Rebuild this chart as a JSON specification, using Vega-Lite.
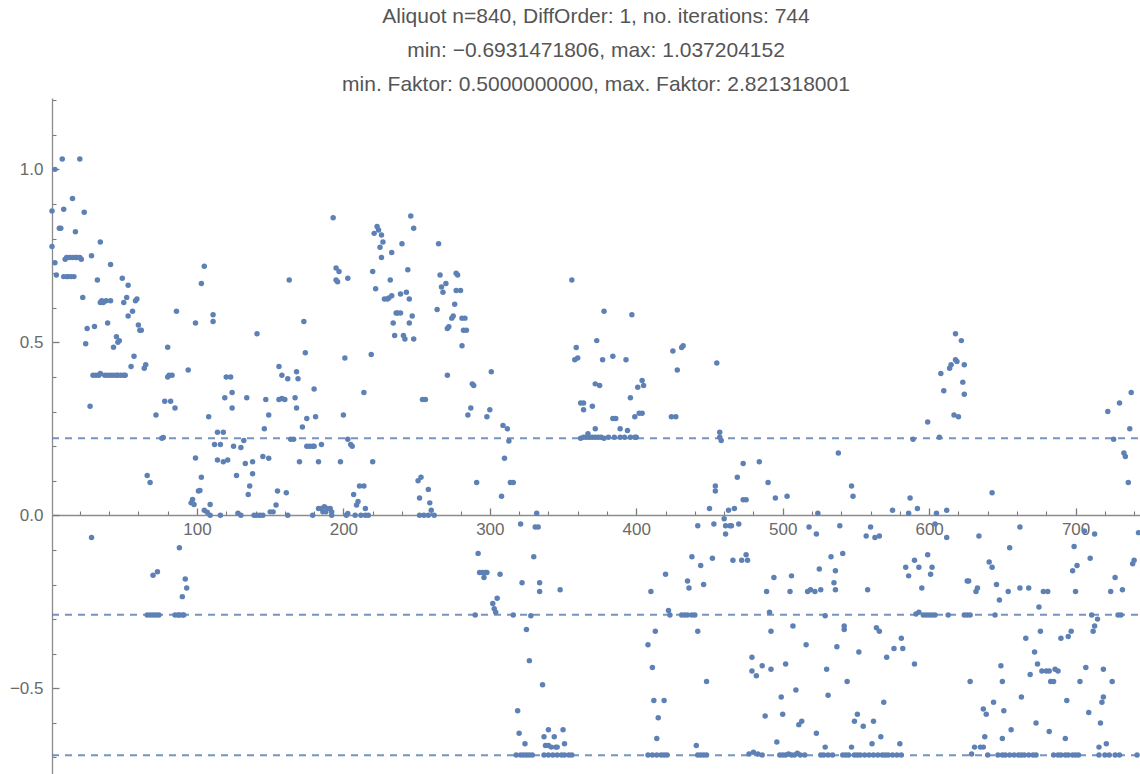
{
"$schema":"https://vega.github.io/schema/vega-lite/v6.json",
"width":1088,"height":676,
"autosize":{"type":"none"},
"padding":{"left":52,"top":98,"right":0,"bottom":0},
"background":"white",
"config":{"view":{"stroke":null}},
"title":{"text":["Aliquot n=840, DiffOrder: 1, no. iterations: 744","min: \u22120.6931471806, max: 1.037204152","min. Faktor: 0.5000000000, max. Faktor: 2.821318001"],"font":"Liberation Sans","fontSize":21,"fontWeight":"normal","color":"#555555","lineHeight":34,"anchor":"middle","offset":3},
"resolve":{"axis":{"x":"independent","y":"independent"}},
"layer":[
{"data":{"values":[{"c":0.2231435513},{"c":-0.2876820725},{"c":-0.6931471806}]},
"mark":{"type":"rule","color":"#5E81B5","strokeDash":[7,6],"strokeWidth":2,"opacity":0.85},
"encoding":{
"y":{"field":"c","type":"quantitative","scale":{"domain":[-0.7477,1.2063],"nice":false,"zero":false},"axis":{"orient":"right","offset":-1088,"values":[-0.7,-0.6,-0.4,-0.3,-0.2,-0.1,0.1,0.2,0.3,0.4,0.6,0.7,0.8,0.9,1.1,1.2],"labels":false,"domain":false,"grid":false,"title":null,"tickColor":"#7a7a7a","tickWidth":1.1,"tickSize":4}},
"x":{"datum":1,"type":"quantitative","scale":{"domain":[1,744],"nice":false,"zero":false},"axis":{"orient":"top","offset":-417,"values":[20,40,60,80,120,140,160,180,220,240,260,280,320,340,360,380,420,440,460,480,520,540,560,580,620,640,660,680,720,740],"labels":false,"domain":false,"grid":false,"title":null,"tickColor":"#7a7a7a","tickWidth":1.1,"tickSize":4}},
"x2":{"datum":744}
}},
{"data":{"values":[{"c":0.2231435513},{"c":-0.2876820725},{"c":-0.6931471806}]},
"mark":{"type":"rule","opacity":0},
"encoding":{
"y":{"field":"c","type":"quantitative","scale":{"domain":[-0.7477,1.2063],"nice":false,"zero":false},"axis":{"orient":"right","offset":-1088,"values":[-0.5,0,0.5,1],"labels":false,"domain":false,"grid":false,"title":null,"tickColor":"#7a7a7a","tickWidth":1.3,"tickSize":7}},
"x":{"datum":1,"type":"quantitative","scale":{"domain":[1,744],"nice":false,"zero":false},"axis":{"orient":"top","offset":-417,"values":[100,200,300,400,500,600,700],"labels":false,"domain":false,"grid":false,"title":null,"tickColor":"#7a7a7a","tickWidth":1.3,"tickSize":7}},
"x2":{"datum":744}
}},
{"data":{"values":[
{"i":1,"v":0.88},{"i":1,"v":0.777},{"i":3,"v":1.0},{"i":3,"v":0.73},{"i":4,"v":0.695},{"i":6,"v":0.83},{"i":7,"v":0.83},{"i":8,"v":1.03},{"i":9,"v":0.885},{"i":9,"v":0.69},{"i":11,"v":0.69},{"i":12,"v":0.69},{"i":14,"v":0.69},{"i":16,"v":0.69},{"i":10,"v":0.74},{"i":11,"v":0.745},{"i":13,"v":0.745},{"i":15,"v":0.745},{"i":17,"v":0.745},{"i":18,"v":0.745},{"i":20,"v":0.745},{"i":21,"v":0.74},{"i":15,"v":0.916},{"i":17,"v":0.82},{"i":20,"v":1.03},{"i":22,"v":0.63},{"i":23,"v":0.876},{"i":24,"v":0.496},{"i":25,"v":0.54},{"i":27,"v":0.315},{"i":28,"v":0.75},{"i":28,"v":-0.064},{"i":29,"v":0.405},{"i":31,"v":0.405},{"i":33,"v":0.405},{"i":34,"v":0.41},{"i":37,"v":0.405},{"i":39,"v":0.405},{"i":41,"v":0.405},{"i":43,"v":0.405},{"i":45,"v":0.405},{"i":46,"v":0.405},{"i":48,"v":0.405},{"i":50,"v":0.405},{"i":51,"v":0.405},{"i":30,"v":0.546},{"i":32,"v":0.68},{"i":34,"v":0.615},{"i":34,"v":0.79},{"i":35,"v":0.62},{"i":36,"v":0.615},{"i":38,"v":0.62},{"i":39,"v":0.556},{"i":41,"v":0.725},{"i":41,"v":0.62},{"i":43,"v":0.486},{"i":45,"v":0.516},{"i":46,"v":0.5},{"i":47,"v":0.505},{"i":49,"v":0.685},{"i":50,"v":0.615},{"i":52,"v":0.63},{"i":53,"v":0.665},{"i":53,"v":0.576},{"i":55,"v":0.43},{"i":56,"v":0.59},{"i":57,"v":0.46},{"i":58,"v":0.62},{"i":59,"v":0.625},{"i":60,"v":0.55},{"i":61,"v":0.535},{"i":62,"v":0.535},{"i":64,"v":0.425},{"i":65,"v":0.435},{"i":66,"v":0.115},{"i":68,"v":0.095},{"i":70,"v":-0.173},{"i":73,"v":-0.163},{"i":72,"v":0.29},{"i":66,"v":-0.288},{"i":68,"v":-0.288},{"i":70,"v":-0.288},{"i":72,"v":-0.288},{"i":74,"v":-0.288},{"i":76,"v":0.223},{"i":77,"v":0.225},{"i":80,"v":0.486},{"i":78,"v":0.33},{"i":82,"v":0.33},{"i":80,"v":0.4},{"i":81,"v":0.405},{"i":83,"v":0.405},{"i":85,"v":0.31},{"i":86,"v":0.59},{"i":85,"v":-0.288},{"i":87,"v":-0.288},{"i":88,"v":-0.288},{"i":90,"v":-0.288},{"i":91,"v":-0.288},{"i":88,"v":-0.094},{"i":90,"v":-0.235},{"i":92,"v":-0.184},{"i":93,"v":-0.21},{"i":94,"v":0.42},{"i":96,"v":0.036},{"i":97,"v":0.046},{"i":98,"v":0.031},{"i":99,"v":0.556},{"i":99,"v":0.166},{"i":101,"v":0.07},{"i":102,"v":0.072},{"i":103,"v":0.11},{"i":103,"v":0.67},{"i":105,"v":0.72},{"i":105,"v":0.015},{"i":107,"v":0.009},{"i":108,"v":0.285},{"i":109,"v":0.031},{"i":109,"v":0},{"i":111,"v":0.58},{"i":111,"v":0.56},{"i":112,"v":0.205},{"i":114,"v":0.24},{"i":116,"v":0.205},{"i":118,"v":0.24},{"i":114,"v":0.16},{"i":118,"v":0.155},{"i":121,"v":0.16},{"i":116,"v":0},{"i":119,"v":0.34},{"i":120,"v":0.4},
{"i":123,"v":0.4},{"i":124,"v":0.355},{"i":124,"v":0.31},{"i":125,"v":0.2},{"i":127,"v":0.115},{"i":128,"v":0.006},{"i":130,"v":0},{"i":130,"v":0.196},{"i":132,"v":0.216},{"i":133,"v":0.15},{"i":134,"v":0.34},{"i":135,"v":0.06},{"i":136,"v":0.085},{"i":138,"v":0.12},{"i":138,"v":0.155},{"i":139,"v":0},{"i":141,"v":0},{"i":143,"v":0},{"i":145,"v":0},{"i":141,"v":0.525},{"i":145,"v":0.17},{"i":149,"v":0.165},{"i":146,"v":0.25},{"i":147,"v":0.335},{"i":149,"v":0.29},{"i":150,"v":0.01},{"i":152,"v":0.01},{"i":154,"v":0.03},{"i":155,"v":0.07},{"i":156,"v":0.43},{"i":156,"v":0.335},{"i":158,"v":0.338},{"i":160,"v":0.335},{"i":158,"v":0.405},{"i":162,"v":0.395},{"i":161,"v":0.065},{"i":162,"v":0},{"i":163,"v":0.68},{"i":164,"v":0.22},{"i":166,"v":0.22},{"i":167,"v":0.34},{"i":168,"v":0.31},{"i":168,"v":0.415},{"i":169,"v":0.395},{"i":170,"v":0.155},{"i":172,"v":0.255},{"i":173,"v":0.56},{"i":174,"v":0.47},{"i":175,"v":0.28},{"i":175,"v":0.2},{"i":177,"v":0.2},{"i":179,"v":0.2},{"i":180,"v":0.2},{"i":179,"v":0},{"i":180,"v":0.365},{"i":181,"v":0.285},{"i":183,"v":0.155},{"i":185,"v":0.205},{"i":183,"v":0.02},{"i":185,"v":0.02},{"i":187,"v":0.025},{"i":189,"v":0.02},{"i":191,"v":0.02},{"i":192,"v":0.01},{"i":186,"v":0.01},{"i":188,"v":0.01},{"i":192,"v":0},{"i":193,"v":0.86},{"i":195,"v":0.715},{"i":195,"v":0.68},{"i":197,"v":0.705},{"i":196,"v":0.675},{"i":198,"v":0.155},{"i":200,"v":0.29},{"i":201,"v":0.455},{"i":202,"v":0},{"i":203,"v":0.005},{"i":203,"v":0.685},{"i":203,"v":0.22},{"i":205,"v":0.205},{"i":206,"v":0.2},{"i":207,"v":0.06},{"i":209,"v":0.03},{"i":210,"v":0.04},{"i":211,"v":0.085},{"i":214,"v":0.085},{"i":214,"v":0.355},{"i":208,"v":0},{"i":212,"v":0},{"i":215,"v":0},{"i":217,"v":0},{"i":215,"v":0.02},{"i":219,"v":0.465},{"i":220,"v":0.155},{"i":220,"v":0.705},{"i":221,"v":0.815},{"i":222,"v":0.655},{"i":223,"v":0.835},{"i":224,"v":0.825},{"i":226,"v":0.81},{"i":225,"v":0.775},{"i":227,"v":0.79},{"i":226,"v":0.745},{"i":228,"v":0.625},{"i":230,"v":0.625},{"i":231,"v":0.628},{"i":232,"v":0.68},{"i":233,"v":0.76},{"i":233,"v":0.635},{"i":234,"v":0.556},{"i":236,"v":0.585},{"i":237,"v":0.585},{"i":239,"v":0.585},{"i":235,"v":0.52},{"i":239,"v":0.64},{"i":240,"v":0.785},{"i":241,"v":0.52},{"i":242,"v":0.51},{"i":243,"v":0.645},{"i":244,"v":0.71},{"i":245,"v":0.625},{"i":245,"v":0.556},{"i":246,"v":0.865},{"i":247,"v":0.576},{"i":248,"v":0.51},{"i":248,"v":0.83},
{"i":254,"v":0.335},{"i":256,"v":0.335},{"i":251,"v":0.1},{"i":253,"v":0.11},{"i":252,"v":0.05},{"i":258,"v":0.075},{"i":259,"v":0.036},{"i":260,"v":0.015},{"i":252,"v":0},{"i":255,"v":0},{"i":258,"v":0},{"i":262,"v":0},{"i":264,"v":0.595},{"i":265,"v":0.785},{"i":266,"v":0.695},{"i":267,"v":0.66},{"i":268,"v":0.645},{"i":270,"v":0.67},{"i":271,"v":0.54},{"i":272,"v":0.545},{"i":271,"v":0.405},{"i":274,"v":0.57},{"i":275,"v":0.576},{"i":276,"v":0.61},{"i":277,"v":0.7},{"i":278,"v":0.695},{"i":277,"v":0.65},{"i":280,"v":0.65},{"i":281,"v":0.57},{"i":283,"v":0.57},{"i":282,"v":0.535},{"i":284,"v":0.535},{"i":281,"v":0.49},{"i":285,"v":0.29},{"i":287,"v":0.31},{"i":288,"v":0.38},{"i":289,"v":0.375},{"i":291,"v":0.095},{"i":292,"v":-0.11},{"i":293,"v":-0.165},{"i":295,"v":-0.165},{"i":297,"v":-0.165},{"i":298,"v":-0.165},{"i":296,"v":-0.18},{"i":290,"v":-0.288},{"i":298,"v":0.285},{"i":300,"v":0.305},{"i":301,"v":0.415},{"i":302,"v":-0.255},{"i":303,"v":-0.27},{"i":304,"v":-0.28},{"i":305,"v":-0.24},{"i":307,"v":-0.17},{"i":308,"v":0.055},{"i":309,"v":0.26},{"i":312,"v":0.25},{"i":310,"v":0.165},{"i":313,"v":0.215},{"i":314,"v":0.095},{"i":316,"v":0.095},{"i":316,"v":-0.288},{"i":319,"v":-0.565},{"i":320,"v":-0.63},{"i":321,"v":-0.025},{"i":322,"v":-0.195},{"i":324,"v":-0.66},{"i":318,"v":-0.693},{"i":321,"v":-0.693},{"i":323,"v":-0.693},{"i":325,"v":-0.693},{"i":327,"v":-0.693},{"i":329,"v":-0.693},{"i":325,"v":-0.33},{"i":327,"v":-0.42},{"i":328,"v":-0.29},{"i":330,"v":-0.12},{"i":331,"v":-0.034},{"i":333,"v":-0.034},{"i":332,"v":0.006},{"i":334,"v":-0.195},{"i":334,"v":-0.22},{"i":336,"v":-0.49},{"i":337,"v":-0.64},{"i":338,"v":-0.665},{"i":340,"v":-0.665},{"i":342,"v":-0.67},{"i":340,"v":-0.62},{"i":337,"v":-0.693},{"i":340,"v":-0.693},{"i":343,"v":-0.693},{"i":346,"v":-0.693},{"i":349,"v":-0.693},{"i":351,"v":-0.693},{"i":354,"v":-0.693},{"i":356,"v":-0.693},{"i":344,"v":-0.64},{"i":345,"v":-0.67},{"i":346,"v":-0.67},{"i":348,"v":-0.215},{"i":350,"v":-0.62},{"i":351,"v":-0.66},{"i":356,"v":0.68},{"i":358,"v":0.45},{"i":360,"v":0.455},{"i":359,"v":0.485},{"i":362,"v":0.325},{"i":364,"v":0.325},{"i":364,"v":0.305},{"i":362,"v":0.223},{"i":364,"v":0.226},{"i":366,"v":0.226},{"i":368,"v":0.226},{"i":370,"v":0.226},{"i":372,"v":0.226},{"i":374,"v":0.226},{"i":376,"v":0.226},{"i":367,"v":0.236},{"i":370,"v":0.315},{"i":372,"v":0.38},{"i":372,"v":0.25},{"i":373,"v":0.505},
{"i":375,"v":0.375},{"i":378,"v":0.59},{"i":377,"v":0.45},{"i":384,"v":0.46},{"i":393,"v":0.45},{"i":384,"v":0.28},{"i":386,"v":0.28},{"i":389,"v":0.25},{"i":394,"v":0.245},{"i":378,"v":0.223},{"i":381,"v":0.226},{"i":385,"v":0.226},{"i":389,"v":0.226},{"i":392,"v":0.226},{"i":396,"v":0.226},{"i":399,"v":0.226},{"i":396,"v":0.34},{"i":397,"v":0.58},{"i":399,"v":0.285},{"i":401,"v":0.37},{"i":404,"v":0.39},{"i":405,"v":0.375},{"i":402,"v":0.295},{"i":404,"v":0.295},{"i":400,"v":0.226},{"i":408,"v":-0.374},{"i":410,"v":-0.22},{"i":411,"v":-0.44},{"i":412,"v":-0.535},{"i":413,"v":-0.335},{"i":415,"v":-0.585},{"i":414,"v":-0.645},{"i":419,"v":-0.535},{"i":420,"v":-0.17},{"i":422,"v":-0.275},{"i":423,"v":-0.288},{"i":408,"v":-0.693},{"i":411,"v":-0.693},{"i":414,"v":-0.693},{"i":417,"v":-0.693},{"i":419,"v":-0.693},{"i":421,"v":-0.693},{"i":425,"v":0.475},{"i":428,"v":0.42},{"i":431,"v":0.485},{"i":432,"v":0.49},{"i":424,"v":0.285},{"i":427,"v":0.285},{"i":431,"v":-0.288},{"i":433,"v":-0.288},{"i":435,"v":-0.288},{"i":438,"v":-0.288},{"i":440,"v":-0.288},{"i":435,"v":-0.19},{"i":436,"v":-0.21},{"i":438,"v":-0.12},{"i":442,"v":-0.335},{"i":442,"v":-0.03},{"i":444,"v":-0.145},{"i":446,"v":-0.2},{"i":441,"v":-0.665},{"i":442,"v":-0.693},{"i":444,"v":-0.693},{"i":446,"v":-0.693},{"i":448,"v":-0.693},{"i":448,"v":-0.48},{"i":450,"v":0.02},{"i":452,"v":-0.124},{"i":453,"v":-0.025},{"i":454,"v":0.085},{"i":454,"v":0.07},{"i":455,"v":0.44},{"i":457,"v":0.24},{"i":457,"v":0.226},{"i":458,"v":0.216},{"i":460,"v":-0.01},{"i":461,"v":-0.03},{"i":461,"v":-0.054},{"i":463,"v":0.015},{"i":464,"v":-0.03},{"i":465,"v":-0.03},{"i":467,"v":0.02},{"i":469,"v":0.11},{"i":466,"v":-0.13},{"i":472,"v":-0.13},{"i":473,"v":0.15},{"i":473,"v":0.045},{"i":475,"v":0.045},{"i":470,"v":-0.025},{"i":475,"v":-0.114},{"i":476,"v":-0.13},{"i":479,"v":-0.41},{"i":479,"v":-0.45},{"i":482,"v":-0.464},{"i":486,"v":-0.435},{"i":492,"v":-0.445},{"i":484,"v":0.155},{"i":488,"v":-0.58},{"i":489,"v":-0.22},{"i":490,"v":0.095},{"i":491,"v":-0.28},{"i":492,"v":-0.335},{"i":494,"v":-0.18},{"i":495,"v":0.05},{"i":496,"v":-0.655},{"i":499,"v":-0.525},{"i":500,"v":-0.575},{"i":477,"v":-0.69},{"i":480,"v":-0.685},{"i":483,"v":-0.69},{"i":486,"v":-0.693},
{"i":503,"v":0.055},{"i":506,"v":-0.175},{"i":505,"v":-0.22},{"i":507,"v":-0.32},{"i":502,"v":-0.43},{"i":509,"v":-0.505},{"i":511,"v":-0.605},{"i":513,"v":-0.595},{"i":516,"v":-0.374},{"i":518,"v":-0.034},{"i":517,"v":-0.22},{"i":519,"v":-0.215},{"i":522,"v":-0.22},{"i":523,"v":-0.054},{"i":524,"v":0.006},{"i":523,"v":-0.63},{"i":525,"v":-0.155},{"i":526,"v":-0.215},{"i":529,"v":-0.29},{"i":530,"v":-0.445},{"i":531,"v":-0.52},{"i":529,"v":-0.67},{"i":533,"v":-0.12},{"i":536,"v":-0.16},{"i":535,"v":-0.195},{"i":536,"v":-0.215},{"i":537,"v":-0.38},{"i":538,"v":0.18},{"i":539,"v":-0.03},{"i":541,"v":-0.11},{"i":542,"v":-0.32},{"i":542,"v":-0.33},{"i":544,"v":-0.48},{"i":547,"v":0.085},{"i":548,"v":0.055},{"i":549,"v":-0.595},{"i":551,"v":-0.575},{"i":552,"v":-0.395},{"i":555,"v":-0.61},{"i":547,"v":-0.67},{"i":557,"v":-0.06},{"i":558,"v":-0.215},{"i":560,"v":-0.034},{"i":561,"v":-0.66},{"i":562,"v":-0.595},{"i":563,"v":-0.064},{"i":566,"v":-0.06},{"i":564,"v":-0.325},{"i":566,"v":-0.335},{"i":567,"v":-0.64},{"i":569,"v":-0.54},{"i":571,"v":-0.41},{"i":575,"v":0.015},{"i":576,"v":-0.385},{"i":581,"v":-0.355},{"i":582,"v":-0.385},{"i":580,"v":-0.66},{"i":584,"v":-0.15},{"i":586,"v":-0.175},{"i":586,"v":0.006},{"i":587,"v":0.05},{"i":589,"v":0.22},{"i":590,"v":-0.43},{"i":590,"v":-0.13},{"i":592,"v":0.02},{"i":593,"v":-0.15},{"i":595,"v":-0.21},{"i":591,"v":-0.285},{"i":593,"v":-0.28},{"i":596,"v":-0.288},{"i":598,"v":-0.288},{"i":600,"v":-0.288},{"i":602,"v":-0.288},{"i":604,"v":-0.288},{"i":599,"v":0.27},{"i":599,"v":-0.114},{"i":601,"v":-0.17},{"i":602,"v":-0.15},{"i":604,"v":-0.025},{"i":605,"v":0.006},{"i":607,"v":0.226},{"i":608,"v":0.41},{"i":610,"v":0.36},{"i":612,"v":-0.064},{"i":612,"v":0.015},{"i":613,"v":-0.288},{"i":614,"v":0.425},{"i":615,"v":0.435},{"i":617,"v":0.29},{"i":620,"v":0.285},{"i":618,"v":0.525},{"i":622,"v":0.505},{"i":618,"v":0.45},{"i":619,"v":0.445},{"i":623,"v":0.385},{"i":624,"v":0.35},{"i":624,"v":0.435},{"i":626,"v":-0.19},{"i":498,"v":-0.693},{"i":500,"v":-0.693},{"i":502,"v":-0.693},{"i":504,"v":-0.69},{"i":506,"v":-0.693},{"i":508,"v":-0.693},{"i":510,"v":-0.688},{"i":512,"v":-0.693},{"i":515,"v":-0.693},{"i":526,"v":-0.693},{"i":528,"v":-0.693},{"i":531,"v":-0.693},{"i":534,"v":-0.693},{"i":541,"v":-0.693},{"i":543,"v":-0.693},{"i":545,"v":-0.693},{"i":549,"v":-0.693},{"i":551,"v":-0.693},{"i":553,"v":-0.693},{"i":556,"v":-0.693},{"i":559,"v":-0.693},{"i":562,"v":-0.693},{"i":565,"v":-0.693},{"i":568,"v":-0.693},{"i":570,"v":-0.693},{"i":572,"v":-0.693},{"i":575,"v":-0.693},{"i":578,"v":-0.693},{"i":581,"v":-0.693},
{"i":643,"v":0.065},{"i":628,"v":-0.48},{"i":627,"v":-0.19},{"i":624,"v":-0.288},{"i":626,"v":-0.288},{"i":628,"v":-0.288},{"i":629,"v":-0.69},{"i":631,"v":-0.67},{"i":632,"v":-0.22},{"i":633,"v":-0.21},{"i":634,"v":-0.06},{"i":637,"v":-0.56},{"i":639,"v":-0.575},{"i":635,"v":-0.67},{"i":637,"v":-0.67},{"i":638,"v":-0.64},{"i":640,"v":-0.693},{"i":641,"v":-0.135},{"i":643,"v":-0.15},{"i":644,"v":-0.54},{"i":645,"v":-0.288},{"i":646,"v":-0.2},{"i":648,"v":-0.245},{"i":649,"v":-0.435},{"i":650,"v":-0.48},{"i":650,"v":-0.645},{"i":651,"v":-0.565},{"i":654,"v":-0.22},{"i":655,"v":-0.094},{"i":656,"v":-0.62},{"i":647,"v":-0.693},{"i":650,"v":-0.693},{"i":652,"v":-0.693},{"i":655,"v":-0.693},{"i":658,"v":-0.693},{"i":661,"v":-0.693},{"i":663,"v":-0.693},{"i":665,"v":-0.693},{"i":668,"v":-0.693},{"i":671,"v":-0.693},{"i":673,"v":-0.693},{"i":662,"v":-0.034},{"i":662,"v":-0.21},{"i":668,"v":-0.21},{"i":663,"v":-0.525},{"i":666,"v":-0.355},{"i":669,"v":-0.46},{"i":672,"v":-0.395},{"i":673,"v":-0.6},{"i":674,"v":-0.43},{"i":675,"v":-0.265},{"i":676,"v":-0.335},{"i":677,"v":-0.45},{"i":680,"v":-0.45},{"i":682,"v":-0.45},{"i":678,"v":-0.22},{"i":681,"v":-0.22},{"i":682,"v":-0.625},{"i":683,"v":-0.48},{"i":685,"v":-0.48},{"i":686,"v":-0.445},{"i":688,"v":-0.45},{"i":685,"v":-0.693},{"i":688,"v":-0.693},{"i":690,"v":-0.693},{"i":693,"v":-0.693},{"i":695,"v":-0.693},{"i":698,"v":-0.693},{"i":700,"v":-0.693},{"i":702,"v":-0.693},{"i":690,"v":-0.355},{"i":695,"v":-0.35},{"i":697,"v":-0.335},{"i":693,"v":-0.645},{"i":694,"v":-0.535},{"i":698,"v":-0.16},{"i":699,"v":-0.09},{"i":700,"v":-0.22},{"i":701,"v":-0.145},{"i":703,"v":-0.48},{"i":706,"v":-0.045},{"i":707,"v":-0.44},{"i":709,"v":-0.57},{"i":710,"v":-0.124},{"i":711,"v":-0.288},{"i":712,"v":-0.335},{"i":713,"v":-0.32},{"i":715,"v":-0.3},{"i":713,"v":-0.054},{"i":716,"v":-0.67},{"i":717,"v":-0.6},{"i":718,"v":-0.54},{"i":719,"v":-0.525},{"i":719,"v":-0.445},{"i":721,"v":-0.66},{"i":716,"v":-0.693},{"i":720,"v":-0.693},{"i":723,"v":-0.693},{"i":727,"v":-0.693},{"i":730,"v":-0.693},{"i":722,"v":0.3},{"i":724,"v":-0.22},{"i":725,"v":-0.48},{"i":726,"v":0.22},{"i":727,"v":-0.18},{"i":729,"v":-0.288},{"i":731,"v":-0.288},{"i":730,"v":0.325},{"i":732,"v":-0.215},{"i":733,"v":0.18},{"i":734,"v":0.17},{"i":736,"v":0.095},{"i":737,"v":0.25},{"i":738,"v":0.355},{"i":739,"v":-0.14},{"i":740,"v":-0.13},{"i":743,"v":-0.05},{"i":742,"v":-0.693}
]},
"mark":{"type":"circle","size":30,"color":"#5E81B5","opacity":1},
"encoding":{
"x":{"field":"i","type":"quantitative","scale":{"domain":[1,744],"nice":false,"zero":false},"axis":{"orient":"bottom","offset":-259,"values":[100,200,300,400,500,600,700],"ticks":false,"domain":true,"domainColor":"#8c8c8c","domainWidth":1.3,"labelFont":"Liberation Sans","labelFontSize":17,"labelColor":"#6a6a6a","labelPadding":6,"labelFlush":false,"grid":false,"title":null}},
"y":{"field":"v","type":"quantitative","scale":{"domain":[-0.7477,1.2063],"nice":false,"zero":false},"axis":{"orient":"left","values":[-0.5,0,0.5,1],"format":".1f","ticks":false,"domain":true,"domainColor":"#8c8c8c","domainWidth":1.3,"labelFont":"Liberation Sans","labelFontSize":17,"labelColor":"#6a6a6a","labelPadding":9,"labelFlush":false,"grid":false,"title":null}}
}}
]
}
